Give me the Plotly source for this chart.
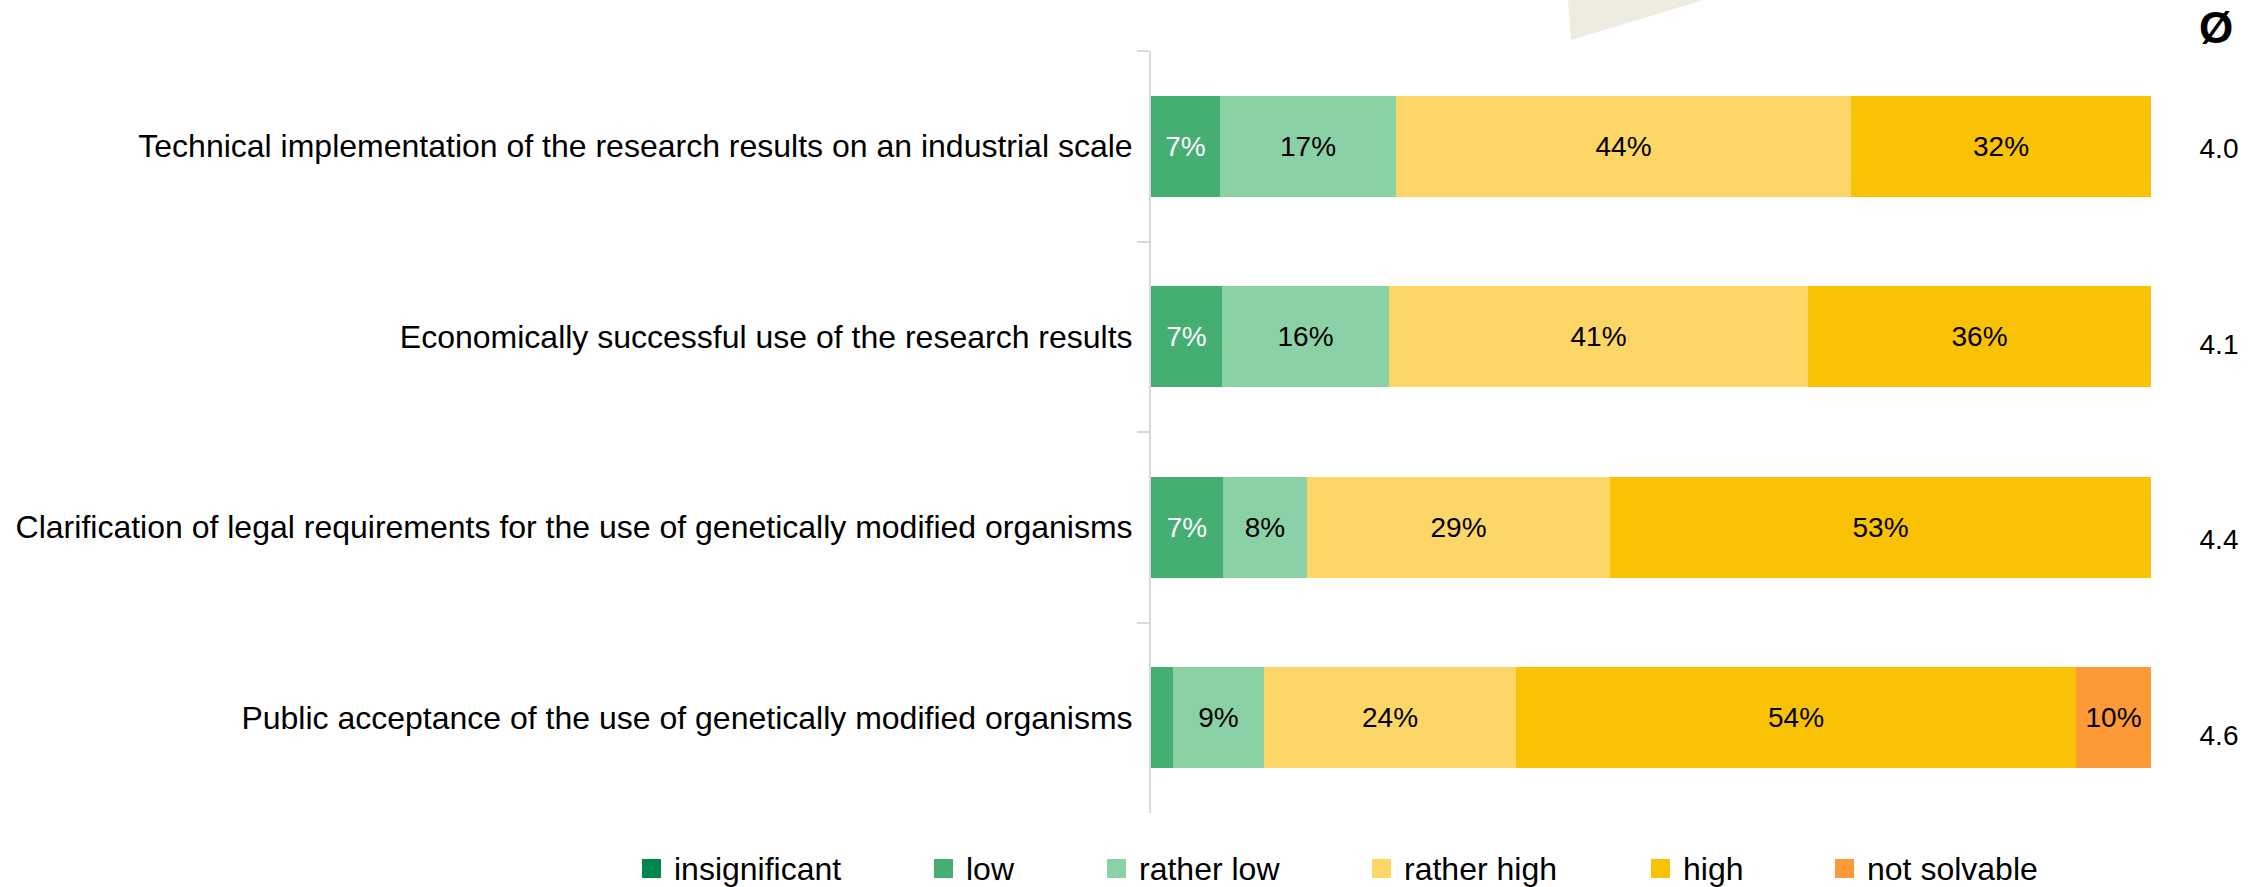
import plotly.graph_objects as go

# ---------------- data ----------------
categories = [
    "Technical implementation of the research results on an industrial scale",
    "Economically successful use of the research results",
    "Clarification of legal requirements for the use of genetically modified organisms",
    "Public acceptance of the use of genetically modified organisms",
]
series_names = ["insignificant", "low", "rather low", "rather high", "high", "not solvable"]

insignificant = [0, 0, 0, 0]
low = [6.9, 7.1, 7.2, 2.2]
rather_low = [17.6, 16.7, 8.4, 9.1]
rather_high = [45.5, 41.9, 30.3, 25.2]
high = [30.0, 34.3, 54.1, 56.0]
not_solvable = [0, 0, 0, 7.5]

insignificant_labels = ["", "", "", ""]
low_labels = ["7%", "7%", "7%", ""]
rather_low_labels = ["17%", "16%", "8%", "9%"]
rather_high_labels = ["44%", "41%", "29%", "24%"]
high_labels = ["32%", "36%", "53%", "54%"]
not_solvable_labels = ["", "", "", "10%"]

averages = ["4.0", "4.1", "4.4", "4.6"]
avg_header = "Ø"

# ---------------- styles ----------------
colors = ["#008750", "#45AE73", "#8AD2A6", "#FCD666", "#FAC205", "#FE9937"]
text_colors = ["#FFFFFF", "#FFFFFF", "#000000", "#000000", "#000000", "#000000"]
FONT = "Liberation Sans, Arial, sans-serif"

W, H = 2266, 887
L, T, B = 1151, 51, 813
BAR_END = 2151            # pixel where 100 % ends
PX_PER_UNIT = (BAR_END - L) / 100.0
X_MAX = (W - L) / PX_PER_UNIT   # plot area runs to the right edge


def px(x):
    return (x - L) / (W - L)


def py(y):
    return (B - y) / (B - T)


values = [insignificant, low, rather_low, rather_high, high, not_solvable]
labels = [insignificant_labels, low_labels, rather_low_labels,
          rather_high_labels, high_labels, not_solvable_labels]

fig = go.Figure()
for name, vals, lbls, col, tcol in zip(series_names, values, labels, colors, text_colors):
    fig.add_trace(go.Bar(
        name=name, y=categories, x=vals, orientation="h",
        marker=dict(color=col, line=dict(width=0)),
        text=lbls, textposition="inside", insidetextanchor="middle",
        textangle=0, constraintext="none",
        insidetextfont=dict(family=FONT, size=28, color=tcol),
        showlegend=False, hoverinfo="skip",
    ))

# average column on its own overlaid category axis
AVG_X = (2219 - L) / PX_PER_UNIT
fig.add_trace(go.Scatter(
    x=[AVG_X] * len(averages), y=categories, yaxis="y2",
    mode="text", text=averages, textposition="middle center",
    textfont=dict(family=FONT, size=28, color="#000000"),
    cliponaxis=False, showlegend=False, hoverinfo="skip",
))

fig.update_layout(
    width=W, height=H,
    margin=dict(l=L, r=0, t=T, b=H - B),
    paper_bgcolor="white", plot_bgcolor="white",
    barmode="stack", bargap=0.47,
    font=dict(family=FONT, size=32, color="#000000"),
    xaxis=dict(range=[0, X_MAX], visible=False, fixedrange=True),
    yaxis=dict(
        type="category", categoryorder="array", categoryarray=categories,
        autorange="reversed",
        showline=True, linecolor="#D9D9D9", linewidth=2,
        ticks="outside", tickson="boundaries", ticklen=12, tickwidth=2,
        tickcolor="#D9D9D9", showgrid=False, zeroline=False,
        tickfont=dict(family=FONT, size=32, color="#000000"),
        ticklabelstandoff=10,
    ),
    yaxis2=dict(
        type="category", categoryorder="array", categoryarray=categories,
        overlaying="y", range=[3.386, -0.5115], visible=False,
    ),
)

# decorative triangle at top
fig.add_shape(type="path", xref="paper", yref="paper",
              path=f"M {px(1568)},{py(0)} L {px(1571)},{py(40)} L {px(1703)},{py(0)} Z",
              fillcolor="#EEEBE0", line=dict(width=0), layer="below")

# average header
fig.add_annotation(x=px(2216), y=py(28), xref="paper", yref="paper",
                   text=f"<b>{avg_header}</b>", showarrow=False,
                   xanchor="center", yanchor="middle",
                   font=dict(family=FONT, size=44, color="#000000"))

# legend (manual, evenly gapped)
legend_left = [642, 934, 1107, 1372, 1651, 1835]
SQ = 19
for name, col, x0 in zip(series_names, colors, legend_left):
    fig.add_shape(type="rect", xref="paper", yref="paper",
                  x0=px(x0), x1=px(x0 + SQ), y0=py(859 + SQ), y1=py(859),
                  fillcolor=col, line=dict(width=0))
    fig.add_annotation(x=px(x0 + 30), y=py(869), xref="paper", yref="paper",
                       text=name, showarrow=False, xanchor="left", yanchor="middle",
                       font=dict(family=FONT, size=32, color="#000000"))

fig.write_html("out.html", config={"displayModeBar": False},
               post_script="document.body.style.margin='0';document.body.style.overflow='hidden';")
